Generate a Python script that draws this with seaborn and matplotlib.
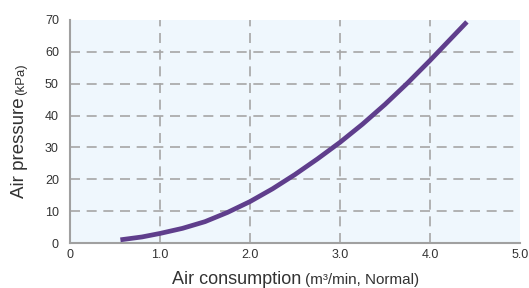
import matplotlib
matplotlib.use("Agg")
import matplotlib.pyplot as plt
import seaborn as sns

# curve
air_consumption = [0.56, 0.8, 1.0, 1.25, 1.5, 1.75, 2.0, 2.25, 2.5, 2.75,
                   3.0, 3.25, 3.5, 3.75, 4.0, 4.2, 4.41]
air_pressure = [1.0, 1.9, 3.0, 4.6, 6.7, 9.6, 13.0, 17.0, 21.5, 26.4,
                31.6, 37.3, 43.5, 50.2, 57.3, 63.2, 69.4]

x_ticks = [0, 1, 2, 3, 4, 5]
x_tick_labels = ["0", "1.0", "2.0", "3.0", "4.0", "5.0"]
y_ticks = [0, 10, 20, 30, 40, 50, 60, 70]

sns.set_style("white")
plt.rcParams["font.family"] = ["Liberation Sans", "DejaVu Sans"]

W, H = 529, 288
fig = plt.figure(figsize=(W / 100, H / 100), dpi=100)
ax = fig.add_axes([70 / W, 1 - 243 / H, 450 / W, 223 / H])
ax.set_facecolor("#eff7fd")

grid_kw = dict(color="#a6a6a6", lw=1.2, dashes=(6, 4), zorder=1)
for xv in x_ticks[1:-1]:
    ax.axvline(xv, **grid_kw)
for yv in y_ticks[1:-1]:
    ax.axhline(yv, **grid_kw)

sns.lineplot(x=air_consumption, y=air_pressure, sort=False, ax=ax,
             color="#5f3e8c", lw=3.4, zorder=3, solid_capstyle="butt",
             solid_joinstyle="round")

ax.set_xlim(0, 5)
ax.set_ylim(0, 70)
ax.set_xticks(x_ticks)
ax.set_xticklabels(x_tick_labels)
ax.set_yticks(y_ticks)
ax.tick_params(axis="both", length=0, labelsize=9, colors="#333333")
ax.tick_params(axis="x", pad=4)
ax.tick_params(axis="y", pad=8)

for side in ["top", "right"]:
    ax.spines[side].set_visible(False)
for side in ["left", "bottom"]:
    ax.spines[side].set_color("#a0a0a0")
    ax.spines[side].set_linewidth(1.5)
ax.set_xlabel("")
ax.set_ylabel("")

# axis titles with smaller unit parts
fig.text(172 / W, 1 - 284 / H, "Air consumption", fontsize=13,
         ha="left", va="baseline", color="#333333")
fig.text(305 / W, 1 - 284 / H, "(m³/min, Normal)", fontsize=11,
         ha="left", va="baseline", color="#333333")
fig.text(24 / W, 1 - 198 / H, "Air pressure", fontsize=13.5, rotation=90,
         rotation_mode="anchor", ha="left", va="baseline", color="#333333")
fig.text(24 / W, 1 - 95 / H, "(kPa)", fontsize=9.5, rotation=90,
         rotation_mode="anchor", ha="left", va="baseline", color="#333333")

fig.savefig("out.png", dpi=100)
